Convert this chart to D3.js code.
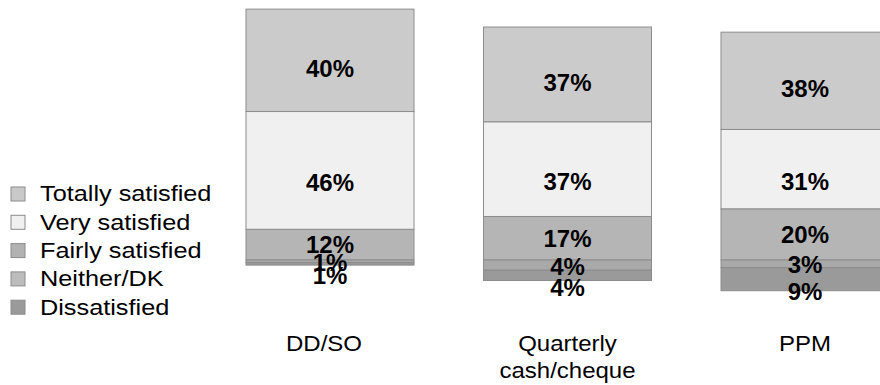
<!DOCTYPE html>
<html>
<head>
<meta charset="utf-8">
<script src="https://cdn.jsdelivr.net/npm/d3@7"></script>
<style>
  html, body { margin: 0; padding: 0; background: #fff; }
  svg { display: block; font-family: "Liberation Sans", Arial, sans-serif; }
</style>
</head>
<body>
<svg id="chart" width="880" height="385"></svg>
<script>
// Payment method categories
const categories = ["DD/SO", "Quarterly cash/cheque", "PPM"];
const categoryLines = [["DD/SO"], ["Quarterly", "cash/cheque"], ["PPM"]];

// Satisfaction levels (legend order, top to bottom)
const seriesNames = ["Totally satisfied", "Very satisfied", "Fairly satisfied", "Neither/DK", "Dissatisfied"];

// Percentages per category
const totallySatisfied = [40, 37, 38];
const verySatisfied    = [46, 37, 31];
const fairlySatisfied  = [12, 17, 20];
const neitherDK        = [1, 4, 3];
const dissatisfied     = [1, 4, 9];

const valuesBySeries = [totallySatisfied, verySatisfied, fairlySatisfied, neitherDK, dissatisfied];

// Styling
const fills = {
  "Totally satisfied": "#cbcbcb",
  "Very satisfied": "#f0f0f0",
  "Fairly satisfied": "#b5b5b5",
  "Neither/DK": "#a9a9a9",
  "Dissatisfied": "#9a9a9a"
};
const legendFills = {
  "Totally satisfied": "#c9c9c9",
  "Very satisfied": "#f0f0f0",
  "Fairly satisfied": "#b2b2b2",
  "Neither/DK": "#bcbcbc",
  "Dissatisfied": "#9a9a9a"
};
const labelShift = {
  "Totally satisfied": 8,
  "Very satisfied": 12,
  "Fairly satisfied": 0,
  "Neither/DK": 1,
  "Dissatisfied": 12
};
const textStretch = 1.15;   // regular text is drawn slightly wide

const svg = d3.select("#chart");

// Positive (satisfied) levels stack upward from zero; neutral and negative stack downward
const y = d3.scaleLinear().domain([-12.5, 100]).range([292, 4]);
const x = d3.scaleBand().domain(categories).range([246, 889]).paddingInner(0.2926).paddingOuter(0);

const positive = ["Fairly satisfied", "Very satisfied", "Totally satisfied"];
const negative = ["Neither/DK", "Dissatisfied"];

const segments = [];
categories.forEach((cat, ci) => {
  let acc = 0;
  positive.forEach(name => {
    const v = valuesBySeries[seriesNames.indexOf(name)][ci];
    segments.push({ cat, name, v, y0: acc, y1: acc + v });
    acc += v;
  });
  acc = 0;
  negative.forEach(name => {
    const v = valuesBySeries[seriesNames.indexOf(name)][ci];
    segments.push({ cat, name, v, y0: acc - v, y1: acc });
    acc -= v;
  });
});

const bars = svg.append("g");
bars.selectAll("rect")
  .data(segments)
  .join("rect")
  .attr("x", d => x(d.cat))
  .attr("width", x.bandwidth())
  .attr("y", d => y(d.y1))
  .attr("height", d => y(d.y0) - y(d.y1))
  .attr("fill", d => fills[d.name])
  .attr("stroke", "#8c8c8c")
  .attr("stroke-width", 1);

// Value labels
svg.append("g").selectAll("text")
  .data(segments)
  .join("text")
  .attr("x", d => x(d.cat) + x.bandwidth() / 2)
  .attr("y", d => (y(d.y0) + y(d.y1)) / 2 + labelShift[d.name])
  .attr("text-anchor", "middle")
  .attr("dominant-baseline", "central")
  .attr("font-size", 24)
  .attr("font-weight", "bold")
  .attr("fill", "#000")
  .text(d => d.v + "%");

// Category labels
const catG = svg.append("g");
categories.forEach((cat, ci) => {
  const cx = x(cat) + x.bandwidth() / 2;
  const t = catG.append("text")
    .attr("transform", `translate(${cx - (ci === 0 ? 6 : 0)},351) scale(${textStretch * 0.95},1)`)
    .attr("text-anchor", "middle")
    .attr("font-size", 22)
    .attr("fill", "#000");
  categoryLines[ci].forEach((line, li) => {
    t.append("tspan")
      .attr("x", 0)
      .attr("dy", li === 0 ? 0 : 27)
      .text(line);
  });
});

// Legend
const legend = svg.append("g");
const rows = legend.selectAll("g")
  .data(seriesNames)
  .join("g")
  .attr("transform", (d, i) => `translate(11, ${194 + i * 28.3})`);
rows.append("rect")
  .attr("x", 0).attr("y", -7)
  .attr("width", 14).attr("height", 14)
  .attr("fill", d => legendFills[d])
  .attr("stroke", "#8c8c8c");
rows.append("text")
  .attr("transform", `translate(29,0) scale(${textStretch},1)`)
  .attr("dominant-baseline", "central")
  .attr("font-size", 22)
  .attr("fill", "#000")
  .text(d => d);
</script>
</body>
</html>
